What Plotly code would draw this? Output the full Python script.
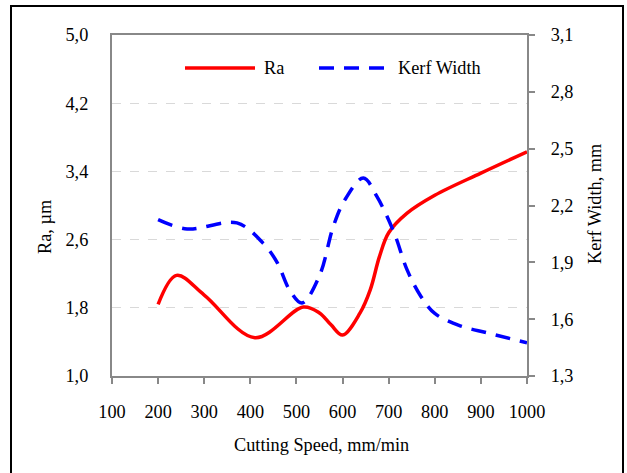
import plotly.graph_objects as go

# Data
ra_x = [200, 240, 300, 410, 515, 550, 575, 600, 638, 660, 680, 700, 740, 800, 900, 1000]
ra_y = [1.84, 2.18, 1.95, 1.45, 1.81, 1.74, 1.60, 1.48, 1.74, 2.01, 2.40, 2.68, 2.91, 3.12, 3.38, 3.63]

kerf_x = [200, 263, 371, 428, 458, 486, 512, 550, 580, 605, 645, 675, 712, 740, 770, 800, 855, 915, 1000]
kerf_y = [2.125, 2.076, 2.108, 2.0, 1.9, 1.75, 1.685, 1.83, 2.09, 2.23, 2.345, 2.245, 2.055, 1.86, 1.72, 1.63, 1.565, 1.527, 1.475]

x_ticks = [100, 200, 300, 400, 500, 600, 700, 800, 900, 1000]
ra_ticks = [1.0, 1.8, 2.6, 3.4, 4.2, 5.0]
kerf_ticks = [1.3, 1.6, 1.9, 2.2, 2.5, 2.8, 3.1]

FONT = "Liberation Serif"
FS = 18.3
AXIS_GREY = "#888888"
DASH = "15px,10px"

fig = go.Figure()
fig.add_trace(go.Scatter(x=ra_x, y=ra_y, mode="lines", name="Ra",
                         line=dict(color="#ff0000", width=3.5, shape="spline", smoothing=1.0),
                         yaxis="y", showlegend=False))
fig.add_trace(go.Scatter(x=kerf_x, y=kerf_y, mode="lines", name="Kerf Width",
                         line=dict(color="#0000ff", width=3.5, dash=DASH, shape="spline", smoothing=1.0),
                         yaxis="y2", showlegend=False))

W, H = 627, 473
L, R, T, B = 112, 100, 35, 97
pw, ph = W - L - R, H - T - B

def px(x):
    return (x - L) / pw

def py(y):
    return (H - B - y) / ph

shapes = [
    dict(type="rect", xref="paper", yref="paper", x0=px(11), x1=px(623), y0=py(490), y1=py(6),
         line=dict(color="black", width=2), layer="below"),
    dict(type="line", xref="paper", yref="paper", x0=px(185), x1=px(255), y0=py(68), y1=py(68),
         line=dict(color="#ff0000", width=3.5)),
    dict(type="line", xref="paper", yref="paper", x0=px(319), x1=px(388), y0=py(68), y1=py(68),
         line=dict(color="#0000ff", width=3.5, dash=DASH)),
]

annotations = [
    dict(text="Ra", x=px(262), y=py(68), xref="paper", yref="paper", xanchor="left", yanchor="middle",
         showarrow=False, font=dict(family=FONT, size=FS, color="black")),
    dict(text="Kerf Width", x=px(396), y=py(68), xref="paper", yref="paper", xanchor="left", yanchor="middle",
         showarrow=False, font=dict(family=FONT, size=FS, color="black")),
    dict(text="Ra, µm", x=px(45), y=py(227), xref="paper", yref="paper", xanchor="center", yanchor="middle",
         textangle=-90, showarrow=False, font=dict(family=FONT, size=FS, color="black")),
    dict(text="Kerf Width, mm", x=px(595), y=py(204), xref="paper", yref="paper", xanchor="center", yanchor="middle",
         textangle=-90, showarrow=False, font=dict(family=FONT, size=FS, color="black")),
    dict(text="Cutting Speed, mm/min", x=px(321), y=py(445), xref="paper", yref="paper", xanchor="center", yanchor="middle",
         showarrow=False, font=dict(family=FONT, size=FS, color="black")),
]

fig.update_layout(
    width=W, height=H,
    margin=dict(l=L, r=R, t=T, b=B, pad=0),
    paper_bgcolor="white", plot_bgcolor="white",
    separators=",.",
    font=dict(family=FONT, size=FS, color="black"),
    shapes=shapes, annotations=annotations,
    xaxis=dict(range=[100, 1000], tickvals=x_ticks, showgrid=False, zeroline=False,
               showline=True, linecolor=AXIS_GREY, linewidth=2, mirror=True,
               ticks="outside", ticklen=6, tickwidth=2, tickcolor=AXIS_GREY,
               ticklabelstandoff=12, tickfont=dict(family=FONT, size=FS, color="black")),
    yaxis=dict(range=[1.0, 5.0], tickvals=ra_ticks, tickformat=".1f", showgrid=True,
               gridcolor="#d9d9d9", griddash="dash", gridwidth=1, zeroline=False,
               showline=True, linecolor=AXIS_GREY, linewidth=2, ticks="",
               ticklabelstandoff=18, tickfont=dict(family=FONT, size=FS, color="black")),
    yaxis2=dict(range=[1.3, 3.1], tickvals=kerf_ticks, tickformat=".1f", overlaying="y", side="right",
                showgrid=False, zeroline=False, showline=True, linecolor=AXIS_GREY, linewidth=2,
                ticks="outside", ticklen=6, tickwidth=2, tickcolor=AXIS_GREY,
                ticklabelstandoff=12, tickfont=dict(family=FONT, size=FS, color="black")),
)

fig.write_html("out.html")
